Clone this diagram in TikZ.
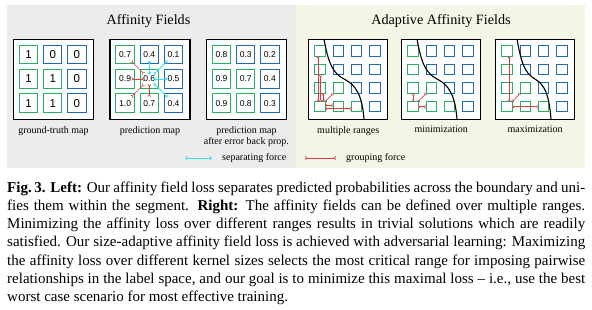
\documentclass[tikz,border=0pt]{standalone}
\usepackage{fontspec}
\setmainfont{Liberation Serif}
\setsansfont{Liberation Sans}
\usetikzlibrary{arrows.meta,calc}
\definecolor{gcol}{RGB}{40,175,100}
\definecolor{bcol}{RGB}{30,105,185}
\definecolor{bggray}{RGB}{236,236,236}
\definecolor{bgbeige}{RGB}{245,245,230}
\definecolor{redf}{RGB}{220,60,60}
\definecolor{cyanf}{RGB}{60,220,230}
\begin{document}
\begin{tikzpicture}[x=1pt,y=-1pt,
  bigbox/.style={draw=black,line width=1.4pt,fill=white,inner sep=0pt,minimum width=80pt,minimum height=80pt,anchor=north west},
  smallbox/.style={bigbox,minimum width=79pt},
  cellA/.style={minimum size=18pt,inner sep=0pt,font=\sffamily\fontsize{11.5}{11.5}\selectfont},
  cellB/.style={cellA,font=\sffamily\fontsize{8.5}{8.5}\selectfont},
  cellC/.style={minimum size=10pt,inner sep=0pt},
  edge g/.style={draw=gcol,line width=1pt},
  edge b/.style={draw=bcol,line width=1pt},
  lbl/.style={font=\fontsize{10}{11}\selectfont,inner sep=0pt,anchor=north,align=center},
  ttl/.style={font=\fontsize{14.2}{15}\selectfont,inner sep=0pt,anchor=base},
  grp/.style={draw=redf,line width=0.6pt,{Straight Barb[reversed,length=1.6pt,width=3.2pt]}-{Straight Barb[reversed,length=1.6pt,width=3.2pt]}},
  sepf/.style={draw=cyanf,line width=0.8pt,{Straight Barb[length=1.6pt,width=3.2pt]}-{Straight Barb[length=1.6pt,width=3.2pt]}},
  bound/.style={draw=black,line width=1.1pt}]
\useasboundingbox (0,0) rectangle (592,310);
% backgrounds
\fill[bggray] (7,5) rectangle (296,168);
\fill[bgbeige] (296,5) rectangle (585,168);
% titles
\node[ttl] (t1) at (148.5,25) {Affinity Fields};
\node[ttl] (t2) at (441,25) {Adaptive Affinity Fields};
% left boxes
\node[bigbox] (a) at (12.7,39) {};
\node[bigbox] (b) at (109.3,39) {};
\node[bigbox] (c) at (205.7,39) {};
\foreach \i/\j/\v in {0/0/1,1/0/0,2/0/0,0/1/1,1/1/1,2/1/0,0/2/1,1/2/1,2/2/0}
  \node[cellA] (a\i\j) at ($(a.north west)+(15.8+24.2*\i,15.8+24.2*\j)$) {\v};
\foreach \i/\j/\v in {0/0/0.7,1/0/0.4,2/0/0.1,0/1/0.9,1/1/0.6,2/1/0.5,0/2/1.0,1/2/0.7,2/2/0.4}
  \node[cellB] (b\i\j) at ($(b.north west)+(15.8+24.2*\i,15.8+24.2*\j)$) {\v};
\foreach \i/\j/\v in {0/0/0.8,1/0/0.3,2/0/0.2,0/1/0.9,1/1/0.7,2/1/0.4,0/2/0.9,1/2/0.8,2/2/0.3}
  \node[cellB] (c\i\j) at ($(c.north west)+(15.8+24.2*\i,15.8+24.2*\j)$) {\v};
% right boxes
\node[smallbox] (d) at (308,39) {};
\node[smallbox] (e) at (401,39) {};
\node[smallbox] (f) at (495,39) {};
\foreach \bx in {d,e,f}
  \foreach \i in {0,1,2,3}
    \foreach \j in {0,1,2,3}
      \node[cellC] (\bx\i\j) at ($(\bx.north west)+(12+18.3*\i,12+18.6*\j)$) {};
% cell outlines
\foreach \n in {a00,a01,a11,a02,a12,b00,b01,b11,b02,b12,c00,c01,c11,c02,c12}
  \draw[edge g] (\n.north west) rectangle (\n.south east);
\foreach \n in {a10,a20,a21,a22,b10,b20,b21,b22,c10,c20,c21,c22}
  \draw[edge b] (\n.north west) rectangle (\n.south east);
\foreach \bx in {d,e,f}{
  \foreach \n in {00,01,02,03,12,13,23}
    \draw[edge g] (\bx\n.north west) rectangle (\bx\n.south east);
  \foreach \n in {10,20,30,11,21,31,22,32,33}
    \draw[edge b] (\bx\n.north west) rectangle (\bx\n.south east);
}
% forces in prediction map
\foreach \t in {b00,b01,b02,b12}
  \draw[grp] ($(b11)!0.22!(\t)$) -- ($(b11)!0.74!(\t)$);
\foreach \t in {b10,b20,b21,b22}
  \draw[sepf] ($(b11)!0.18!(\t)$) -- ($(b11)!0.76!(\t)$);
% labels
\node[lbl] (la) at ($(a.south)+(0,5.7)$) {ground-truth map};
\node[lbl] (lb) at ($(b.south)+(0,5.7)$) {prediction map};
\node[lbl] (lc) at ($(c.south)+(0,5.7)$) {prediction map\\after error back prop.};
% boundaries
\begin{scope}[shift={(d.north west)}]
  \draw[bound] (16,0) .. controls (20,22) and (24,34) .. (36,40) .. controls (48,46) and (54,56) .. (56,80);
\end{scope}
\begin{scope}[shift={(e.north west)}]
  \draw[bound] (16,0) .. controls (20,22) and (24,34) .. (36,40) .. controls (48,46) and (54,56) .. (56,80);
\end{scope}
\begin{scope}[shift={(f.north west)}]
  \draw[bound] (22,0) .. controls (26,22) and (29,34) .. (40,40) .. controls (50,46) and (54,56) .. (56,80);
\end{scope}
% grouping forces, multiple ranges
\draw[grp] ([xshift=-2pt]d03.north) -- ([xshift=-2pt]d00.south);
\draw[grp] ([xshift=0.5pt]d03.north) -- ([xshift=0.5pt]d01.south);
\draw[grp] ([xshift=3pt]d03.north) -- ([xshift=3pt]d02.south);
\draw[grp] (d03.north east) -- (d12.south west);
\draw[grp] ([yshift=1.5pt]d03.east) -- ([yshift=1.5pt]d13.west);
\draw[grp] ([yshift=-2pt]d03.east) -- ([yshift=-2pt]d23.west);
% minimization
\draw[grp] (e03.north) -- (e02.south);
\draw[grp] (e03.north east) -- (e12.south west);
\draw[grp] (e03.east) -- (e13.west);
% maximization
\draw[grp] ([xshift=2pt]f03.north) -- ([xshift=2pt]f00.south);
\draw[grp] (f03.north east) -- (f12.south west);
\draw[grp] (f03.east) -- (f23.west);
% labels
\node[lbl] (ld) at ($(d.south)+(0,5.7)$) {multiple ranges};
\node[lbl] (le) at ($(e.south)+(0,5.7)$) {minimization};
\node[lbl] (lf) at ($(f.south)+(0,5.7)$) {maximization};
% legend
\coordinate (sA) at (185,158);
\coordinate (sB) at (212,158);
\draw[sepf] (sA) -- (sB);
\node[font=\fontsize{10}{11}\selectfont,inner sep=0pt,anchor=west] (lsep) at (222,158) {separating force};
\coordinate (gA) at (305,158);
\coordinate (gB) at (336,158);
\draw[grp] (gA) -- (gB);
\node[font=\fontsize{10}{11}\selectfont,inner sep=0pt,anchor=west] (lgrp) at (346,158) {grouping force};
% caption
\node[anchor=north west,inner sep=0pt,text width=578pt,align=justify,font=\fontsize{15}{18.3}\selectfont] (cap) at (7,181.3) {%
\textbf{Fig.\,3. Left:} Our affinity field loss separates predicted probabilities across the boundary and uni-\linebreak
fies them within the segment. \textbf{Right:} The affinity fields can be defined over multiple ranges.\linebreak
Minimizing the affinity loss over different ranges results in trivial solutions which are readily\linebreak
satisfied. Our size-adaptive affinity field loss is achieved with adversarial learning: Maximizing\linebreak
the affinity loss over different kernel sizes selects the most critical range for imposing pairwise\linebreak
relationships in the label space, and our goal is to minimize this maximal loss -- i.e., use the best\linebreak
worst case scenario for most effective training.};
\end{tikzpicture}
\end{document}
